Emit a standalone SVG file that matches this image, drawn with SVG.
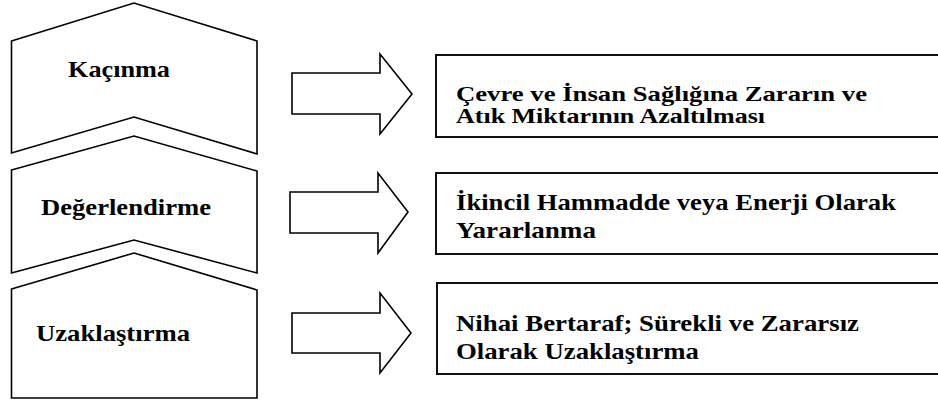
<svg xmlns="http://www.w3.org/2000/svg" width="938" height="409" viewBox="0 0 938 409">
  <style>
    .chev { fill: #fff; stroke: #000; stroke-width: 1.6; stroke-linejoin: miter; }
    .arrow { fill: #fff; stroke: #000; stroke-width: 1.6; stroke-linejoin: miter; }
    .box { fill: #fff; stroke: #111; stroke-width: 2; }
    .lbl { font-family: "Times New Roman", "Liberation Serif", serif; font-weight: bold; font-size: 23px; fill: #000; }
    .tight { font-size: 21px; }
  </style>
  <rect width="938" height="409" fill="#fff"/>

  <!-- Left column: stacked chevrons -->
  <g id="node-kacinma">
    <polygon class="chev" points="11.5,41 134,3 257,41 257,154 134,117 11.5,153"/>
    <text class="lbl" x="68" y="77" textLength="102" lengthAdjust="spacingAndGlyphs">Kaçınma</text>
  </g>
  <g id="node-degerlendirme">
    <polygon class="chev" points="11.5,170 134,136 257,171 257,273 134,240 11.5,273"/>
    <text class="lbl" x="41" y="215" textLength="170" lengthAdjust="spacingAndGlyphs">Değerlendirme</text>
  </g>
  <g id="node-uzaklastirma">
    <polygon class="chev" points="11.5,289 134,253 257,290 257,398 11.5,398"/>
    <text class="lbl" x="36" y="341" textLength="154" lengthAdjust="spacingAndGlyphs">Uzaklaştırma</text>
  </g>

  <!-- Block arrows -->
  <g id="connectors">
    <polygon class="arrow" points="292,73 380,73 380,54 412,94 380,134 380,114 292,114"/>
    <polygon class="arrow" points="290,192 378,192 378,173 408,212 378,253 378,233 290,233"/>
    <polygon class="arrow" points="292,313 380,313 380,293 411,333 380,373 380,353 292,353"/>
  </g>

  <!-- Right column: outcome boxes -->
  <g id="node-outcome-1">
    <rect class="box" x="436" y="55" width="520" height="82"/>
    <text class="lbl tight" x="456" y="101" textLength="411" lengthAdjust="spacingAndGlyphs">Çevre ve İnsan Sağlığına Zararın ve</text>
    <text class="lbl tight" x="456" y="123" textLength="309" lengthAdjust="spacingAndGlyphs">Atık Miktarının Azaltılması</text>
  </g>
  <g id="node-outcome-2">
    <rect class="box" x="436" y="173" width="520" height="81"/>
    <text class="lbl" x="456" y="210" textLength="440" lengthAdjust="spacingAndGlyphs">İkincil Hammadde veya Enerji Olarak</text>
    <text class="lbl" x="456" y="238" textLength="140" lengthAdjust="spacingAndGlyphs">Yararlanma</text>
  </g>
  <g id="node-outcome-3">
    <rect class="box" x="437" y="283" width="520" height="91"/>
    <text class="lbl" x="456" y="331" textLength="403" lengthAdjust="spacingAndGlyphs">Nihai Bertaraf; Sürekli ve Zararsız</text>
    <text class="lbl" x="456" y="359" textLength="243" lengthAdjust="spacingAndGlyphs">Olarak Uzaklaştırma</text>
  </g>
</svg>
